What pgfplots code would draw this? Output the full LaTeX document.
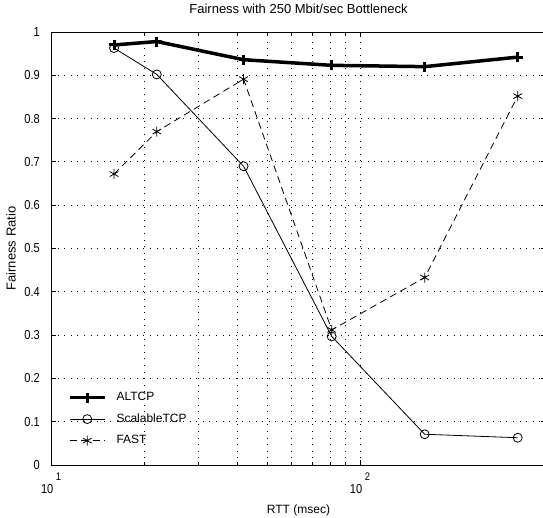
\documentclass[border=0pt]{standalone}
\usepackage{fontspec}
\setmainfont{Liberation Sans}
\newfontfamily\tickfont[FakeStretch=0.85]{Liberation Sans}
\usepackage{pgfplots}
\pgfplotsset{compat=1.18}
\begin{document}
\fontsize{12}{14}\selectfont
\begin{tikzpicture}
\clip (0,0) rectangle (543pt,517pt);
\begin{semilogxaxis}[
  at={(51pt,52pt)}, anchor=south west,
  scale only axis, width=495pt, height=433pt,
  xmin=10, xmax=400, ymin=0, ymax=1,
  xtick={10,100},
  xticklabels={{10\kern2.5pt\raisebox{13pt}{\fontsize{11}{12}\selectfont 1}},{10\kern2.5pt\raisebox{13pt}{\fontsize{11}{12}\selectfont 2}}},
  ytick={0,0.1,0.2,0.3,0.4,0.5,0.6,0.7,0.8,0.9,1},
  yticklabels={0,0.1,0.2,0.3,0.4,0.5,0.6,0.7,0.8,0.9,1},
  tick label style={font=\tickfont\fontsize{13}{15}\selectfont},
  yticklabel style={xshift=-7pt},
  xticklabel style={yshift=-4pt},
  tick align=inside,
  major tick length=5pt, minor tick length=3pt,
  tick style={black, line width=0.8pt},
  axis line style={black, line width=0.9pt},
  grid=both,
  major grid style={black, dash pattern=on 1pt off 5.6pt, line width=0.8pt},
  minor grid style={black, dash pattern=on 1pt off 5.6pt, line width=0.8pt},
  title={Fairness with 250 Mbit/sec Bottleneck},
  title style={at={(axis description cs:0.5,1)}, anchor=center, yshift=17pt, font=\fontsize{13}{15}\selectfont},
  xlabel={RTT (msec)},
  xlabel style={at={(axis description cs:0.5,0)}, anchor=center, yshift=-45pt, font=\fontsize{12}{14}\selectfont},
  ylabel={Fairness Ratio},
  ylabel style={at={(axis description cs:-0.0808,0.5)}, anchor=center, font=\fontsize{13}{15}\selectfont},
  legend cell align=left,
  legend style={at={(axis description cs:0.034,0.042)}, anchor=south west, draw=none, fill=none,
    inner sep=0pt, row sep=9.5pt, column sep=10pt,
    nodes={inner sep=0pt, text height=9pt, text depth=3pt},
    font=\fontsize{12}{14}\selectfont},
  legend image code/.code={\draw[mark repeat=2,mark phase=2,#1] plot coordinates {(0pt,0pt) (17.5pt,0pt) (35pt,0pt)};},
]
\addplot[black, line width=3.5pt, mark=+, mark size=5pt, mark options={solid, line width=3pt}]
  coordinates {(16,0.970) (22,0.978) (42,0.936) (81,0.923) (162,0.920) (324,0.942)};
\addlegendentry{ALTCP}
\addplot[black, line width=0.8pt, mark=o, mark size=4.5pt, mark options={solid}]
  coordinates {(16,0.963) (22,0.902) (42,0.690) (81,0.297) (162,0.071) (324,0.063)};
\addlegendentry{ScalableTCP}
\addplot[black, line width=0.8pt, dash pattern=on 7pt off 4.5pt, mark=asterisk, mark size=5pt, mark options={solid}]
  coordinates {(16,0.672) (22,0.770) (42,0.891) (81,0.312) (162,0.433) (324,0.852)};
\addlegendentry{FAST}
\end{semilogxaxis}
\end{tikzpicture}
\end{document}
